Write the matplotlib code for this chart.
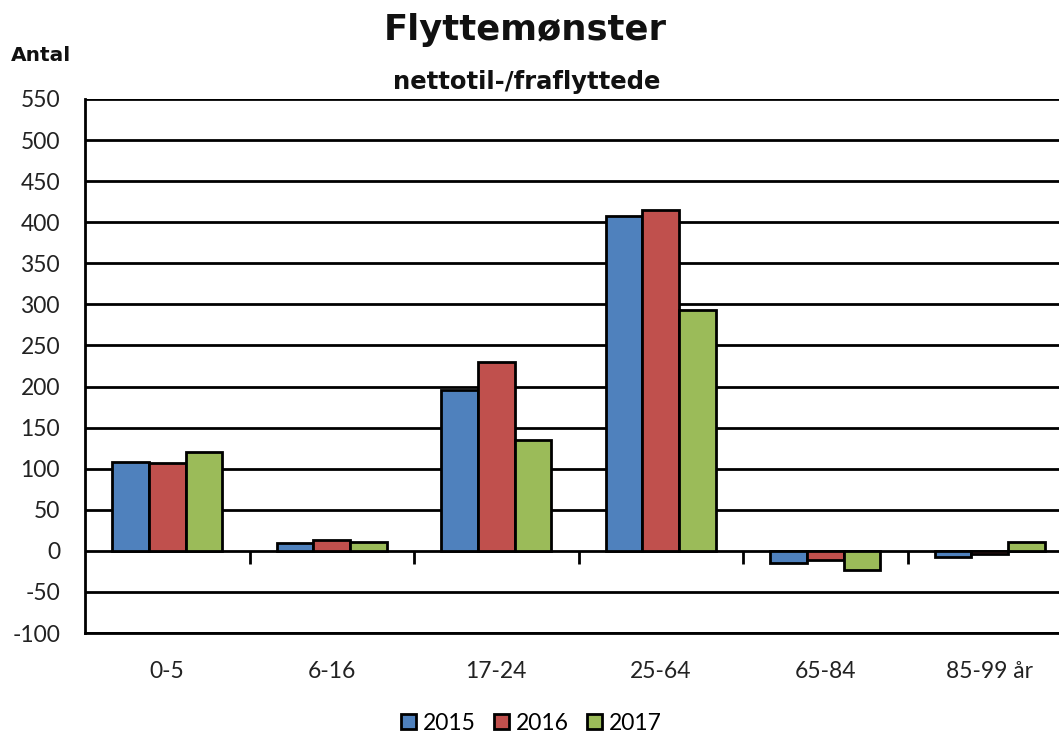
import matplotlib
matplotlib.use("Agg")
import matplotlib.pyplot as plt
import numpy as np

categories = ["0-5", "6-16", "17-24", "25-64", "65-84", "85-99 år"]
series_names = ["2015", "2016", "2017"]
v2015 = [108, 10, 196, 407, -15, -7]
v2016 = [107, 13, 230, 415, -11, -4]
v2017 = [120, 11, 135, 293, -23, 11]
yticks = list(range(-100, 551, 50))

colors = ["#4F81BD", "#C0504D", "#9BBB59"]
plt.rcParams['font.family'] = ['Lato', 'DejaVu Sans']
bold_fam = ['DejaVu Sans']

fig = plt.figure(figsize=(10.59, 7.38), dpi=100)
ax = fig.add_axes([85/1059, 1-633/738, 987/1059, (633-99)/738])

x = np.arange(len(categories))
w = 0.222
for i, (vals, name) in enumerate(zip([v2015, v2016, v2017], series_names)):
    ax.bar(x + (i-1)*w, vals, w, color=colors[i], edgecolor="black",
           linewidth=2, label=name, zorder=3)

ax.set_xlim(-0.5, len(categories)-0.5)
ax.set_ylim(-100, 550)
ax.set_yticks(yticks)
ax.set_yticklabels([str(t) for t in yticks], fontsize=16.5, color="#222222")
ax.yaxis.grid(True, color="black", linewidth=2, zorder=1)
ax.set_axisbelow(True)
ax.tick_params(axis='y', length=0, pad=18)
ax.set_xticks(x)
ax.set_xticklabels(categories, fontsize=16.5, color="#222222")
ax.tick_params(axis='x', length=0, pad=20)
for s in ['top', 'right']:
    ax.spines[s].set_visible(False)
ax.spines['left'].set_linewidth(2)
ax.spines['bottom'].set_linewidth(2)
ax.spines['left'].set_zorder(4)

# category boundary ticks on the zero line
loc = (0 - (-100)) / (550 - (-100))
sec = ax.secondary_xaxis(loc)
sec.set_xticks(np.arange(0.5, len(categories)-0.5, 1.0))
sec.tick_params(axis='x', length=9, width=2, direction='out', labelbottom=False, labeltop=False)
sec.spines['bottom'].set_visible(False)
sec.spines['top'].set_visible(False)

fig.text(525/1059, 1-40/738, "Flyttemønster", ha='center', va='baseline',
         fontsize=25.5, fontweight='bold', family=bold_fam, color="#111111")
fig.text(527/1059, 1-89/738, "nettotil-/fraflyttede", ha='center', va='baseline',
         fontsize=17.5, fontweight='bold', family=bold_fam, color="#111111")
fig.text(41/1059, 1-61/738, "Antal", ha='center', va='baseline',
         fontsize=14.5, fontweight='bold', family=bold_fam, color="#111111")

leg = fig.legend(loc='center', bbox_to_anchor=(531/1059, 1-723/738), ncol=3,
                 frameon=False, fontsize=16.5, handlelength=0.65, handleheight=0.65,
                 handletextpad=0.3, columnspacing=0.8)
for h in leg.legend_handles:
    h.set_linewidth(2)

fig.savefig("out.png", dpi=100)
